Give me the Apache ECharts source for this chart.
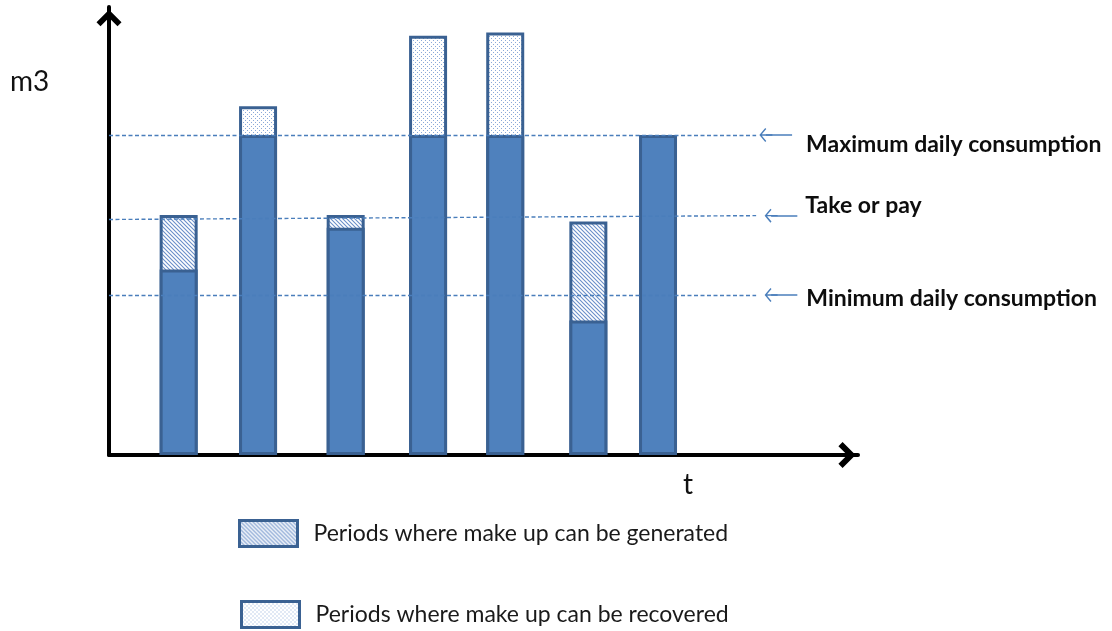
<!DOCTYPE html>
<html>
<head>
<meta charset="utf-8">
<script src="https://cdn.jsdelivr.net/npm/echarts@6/dist/echarts.min.js"></script>
<style>
  html, body { margin: 0; padding: 0; background: #ffffff; }
  #chart { width: 1112px; height: 631px; }
</style>
</head>
<body>
<div id="chart"></div>
<script>
// Position of each period on the time axis (t)
const periods = [0.93, 1.99, 3.16, 4.26, 5.29, 6.40, 7.33];
// Volume actually consumed in each period (m3)
const consumption = [58, 100, 71, 100, 100, 42, 100];
// Make up generated (shortfall below take or pay) and make up recovered (above the maximum)
const makeUpGenerated = [17, 0, 4, 0, 0, 31, 0];
const makeUpRecovered = [0, 9, 0, 31, 32, 0, 0];

// Contract levels: label, level at t = 0 and level where the dashed line stops
const levelNames = ['Maximum daily consumption', 'Take or pay', 'Minimum daily consumption'];
const levelStart = [100, 73.6, 50];
const levelEnd = [100, 74.8, 50];

const legendNames = ['Periods where make up can be generated', 'Periods where make up can be recovered'];

// Layout on the t axis for the reference lines and their pointer arrows
const lineEndT = 8.64;
const arrowStartT = [8.77, 8.84, 8.84];
const arrowEndT = [9.12, 9.19, 9.19];
// Pixel nudges of the level labels relative to the arrow end
const labelGapX = [14, 8, 9];
const labelShiftY = [9.5, -10, 3.5];

const BAR_FILL = '#4f81bd';
const BAR_EDGE = '#3a6192';
const LINE_BLUE = '#4a7ebb';
const TEXT = '#0d0d0d';

// Small tiles used as fill patterns
function makePattern(draw) {
  const c = document.createElement('canvas');
  c.width = 4; c.height = 4;
  const g = c.getContext('2d');
  g.fillStyle = '#ffffff';
  g.fillRect(0, 0, 4, 4);
  draw(g);
  return { image: c, repeat: 'repeat' };
}
const hatchFill = makePattern(function (g) {
  g.strokeStyle = '#6a8fc9';
  g.lineWidth = 1.1;
  g.beginPath();
  g.moveTo(-1, -1); g.lineTo(5, 5);
  g.moveTo(3, -1); g.lineTo(5, 1);
  g.moveTo(-1, 3); g.lineTo(1, 5);
  g.stroke();
});
const dotFill = makePattern(function (g) {
  g.fillStyle = '#8aa9d8';
  g.fillRect(1, 0, 1, 1);
  g.fillRect(3, 2, 1, 1);
});

function stackedTops(extra) {
  const pts = [];
  periods.forEach(function (t, i) {
    if (extra[i] > 0) pts.push([t, consumption[i] + extra[i]]);
  });
  return pts;
}

const AXIS_ARROW = 'path://M50 0L100 50L84 66L50 32L16 66L0 50Z';
const POINTER = 'path://M50 0L100 45L92 53L55 19L55 100L45 100L45 19L8 53L0 45Z';

// Dashed contract levels plus the small arrows pointing at them
const markLines = [];
levelNames.forEach(function (name, i) {
  markLines.push([
    { coord: [0, levelStart[i]] },
    { coord: [lineEndT, levelEnd[i]] }
  ]);
  markLines.push([
    {
      coord: [arrowStartT[i], levelEnd[i]],
      symbol: POINTER,
      symbolSize: [14, 13],
      lineStyle: { type: 'solid', width: 1.5 }
    },
    { coord: [arrowEndT[i], levelEnd[i]] }
  ]);
});

const barCommon = {
  type: 'bar',
  barWidth: 38,
  barGap: '-100%',
  animation: false,
  silent: true
};

const legendCommon = {
  orient: 'vertical',
  itemWidth: 58, itemHeight: 26,
  icon: 'rect',
  selectedMode: false,
  itemStyle: { borderColor: BAR_EDGE, borderWidth: 3 },
  textStyle: { fontFamily: 'Lato', fontSize: 23, color: '#1a1a1a', padding: [0, 0, 0, 11] }
};

const chart = echarts.init(document.getElementById('chart'));
chart.setOption({
  backgroundColor: '#ffffff',
  animation: false,
  grid: { left: 109, right: 254, top: 7, bottom: 176 },
  xAxis: {
    type: 'value', min: 0, max: 10,
    splitLine: { show: false },
    axisTick: { show: false },
    axisLabel: { show: false },
    axisLine: {
      show: true,
      symbol: ['none', AXIS_ARROW],
      symbolSize: [26, 22],
      symbolOffset: [0, -11],
      lineStyle: { color: '#000000', width: 4 }
    }
  },
  yAxis: {
    type: 'value', min: 0, max: 140,
    splitLine: { show: false },
    axisTick: { show: false },
    axisLabel: { show: false },
    axisLine: {
      show: true,
      symbol: ['none', AXIS_ARROW],
      symbolSize: [25, 22],
      symbolOffset: [0, -11],
      lineStyle: { color: '#000000', width: 4 }
    }
  },
  legend: [
    Object.assign({}, legendCommon, { left: 233, top: 514, data: [legendNames[0]] }),
    Object.assign({}, legendCommon, { left: 235, top: 595, data: [legendNames[1]] })
  ],
  graphic: {
    elements: [
      { id: 'yname', type: 'text', x: 10, y: 82, style: { text: 'm3', font: '28px Lato', fill: '#111111', verticalAlign: 'middle' } },
      { id: 'xname', type: 'text', x: 683, y: 485, style: { text: 't', font: '28px Lato', fill: '#111111', verticalAlign: 'middle' } }
    ]
  },
  series: [
    Object.assign({}, barCommon, {
      name: legendNames[0],
      data: stackedTops(makeUpGenerated),
      itemStyle: { color: hatchFill, borderColor: BAR_EDGE, borderWidth: 3 }
    }),
    Object.assign({}, barCommon, {
      name: legendNames[1],
      data: stackedTops(makeUpRecovered),
      itemStyle: { color: dotFill, borderColor: BAR_EDGE, borderWidth: 3 }
    }),
    Object.assign({}, barCommon, {
      name: 'Consumption',
      data: periods.map(function (t, i) { return [t, consumption[i]]; }),
      itemStyle: { color: BAR_FILL, borderColor: BAR_EDGE, borderWidth: 3 },
      markLine: {
        silent: true,
        animation: false,
        symbol: ['none', 'none'],
        lineStyle: { color: LINE_BLUE, width: 1.4, type: [4, 2.5] },
        label: { show: false },
        data: markLines
      }
    })
  ]
});

// Level labels sit just right of each pointer arrow
chart.setOption({
  graphic: {
    elements: levelNames.map(function (name, i) {
      const p = chart.convertToPixel({ gridIndex: 0 }, [arrowEndT[i], levelEnd[i]]);
      return {
        id: 'level' + i,
        type: 'text',
        x: p[0] + labelGapX[i],
        y: p[1] + labelShiftY[i],
        style: { text: name, font: 'bold 23px Lato', fill: TEXT, verticalAlign: 'middle' }
      };
    })
  }
});
</script>
</body>
</html>
